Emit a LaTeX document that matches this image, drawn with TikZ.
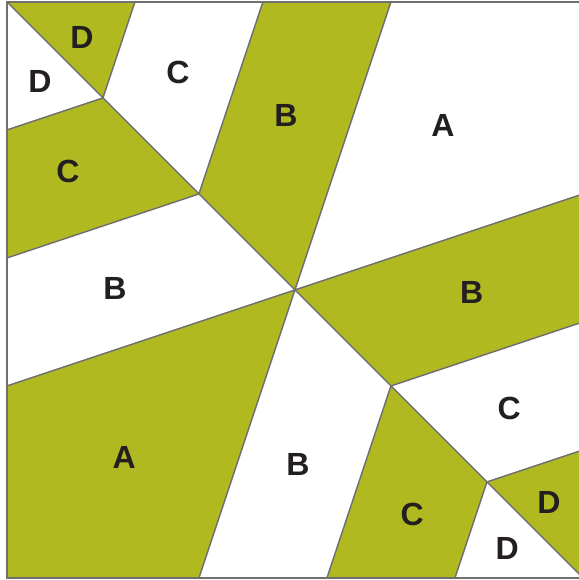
\documentclass[tikz,border=0pt]{standalone}
\usepackage{fontspec}
\setmainfont{Liberation Sans}
\definecolor{olive}{HTML}{B0BA20}
\definecolor{edge}{HTML}{707070}
\definecolor{ink}{HTML}{231F20}
\begin{document}
\begin{tikzpicture}[x=1cm,y=1cm,
  gpiece/.style={fill=olive,draw=edge,line width=0.4pt,line join=round},
  wpiece/.style={fill=white,draw=edge,line width=0.4pt,line join=round},
  lab/.style={font=\fontsize{9.5}{10}\selectfont\bfseries,text=ink,inner sep=0pt}]
\useasboundingbox (-0.0729,-0.0208) rectangle (5.9583,6.0208);
% key points
\coordinate (TL) at (0,6); \coordinate (TR) at (6,6);
\coordinate (BL) at (0,0); \coordinate (BR) at (6,0);
\coordinate (O) at (3,3);
\coordinate (P1) at (2,4); \coordinate (P2) at (1,5);
\coordinate (P3) at (4,2); \coordinate (P4) at (5,1);
\coordinate (t1) at (4/3,6); \coordinate (t2) at (8/3,6); \coordinate (t3) at (4,6);
\coordinate (l1) at (0,14/3); \coordinate (l2) at (0,10/3); \coordinate (l3) at (0,2);
\coordinate (b1) at (2,0); \coordinate (b2) at (10/3,0); \coordinate (b3) at (14/3,0);
\coordinate (r1) at (6,4); \coordinate (r2) at (6,8/3); \coordinate (r3) at (6,4/3);
% pieces
\draw[gpiece] (TL) -- (t1) -- (P2) -- cycle;
\draw[wpiece] (TL) -- (P2) -- (l1) -- cycle;
\draw[wpiece] (t1) -- (t2) -- (P1) -- (P2) -- cycle;
\draw[gpiece] (l1) -- (P2) -- (P1) -- (l2) -- cycle;
\draw[gpiece] (t2) -- (t3) -- (O) -- (P1) -- cycle;
\draw[wpiece] (l2) -- (P1) -- (O) -- (l3) -- cycle;
\draw[wpiece] (t3) -- (TR) -- (r1) -- (O) -- cycle;
\draw[gpiece] (l3) -- (O) -- (b1) -- (BL) -- cycle;
\draw[gpiece] (O) -- (r1) -- (r2) -- (P3) -- cycle;
\draw[wpiece] (O) -- (P3) -- (b2) -- (b1) -- cycle;
\draw[wpiece] (P3) -- (r2) -- (r3) -- (P4) -- cycle;
\draw[gpiece] (P3) -- (P4) -- (b3) -- (b2) -- cycle;
\draw[gpiece] (P4) -- (r3) -- (BR) -- cycle;
\draw[wpiece] (P4) -- (BR) -- (b3) -- cycle;
% outer border
\draw[edge,line width=0.6pt] (TR) -- (TL) -- (BL) -- (BR);
% labels
\node[lab] (d1) at (0.78,5.635) {D};
\node[lab] (d2) at (0.344,5.167) {D};
\node[lab] (c1) at (1.78,5.27) {C};
\node[lab] (c2) at (0.635,4.23) {C};
\node[lab] (bb1) at (2.906,4.823) {B};
\node[lab] (a1) at (4.54,4.71) {A};
\node[lab] (bb2) at (1.125,3.02) {B};
\node[lab] (bb3) at (4.84,2.97) {B};
\node[lab] (c3) at (5.23,1.77) {C};
\node[lab] (a2) at (1.22,1.26) {A};
\node[lab] (bb4) at (3.03,1.18) {B};
\node[lab] (c4) at (4.22,0.667) {C};
\node[lab] (d3) at (5.646,0.79) {D};
\node[lab] (d4) at (5.21,0.3125) {D};
\end{tikzpicture}
\end{document}
